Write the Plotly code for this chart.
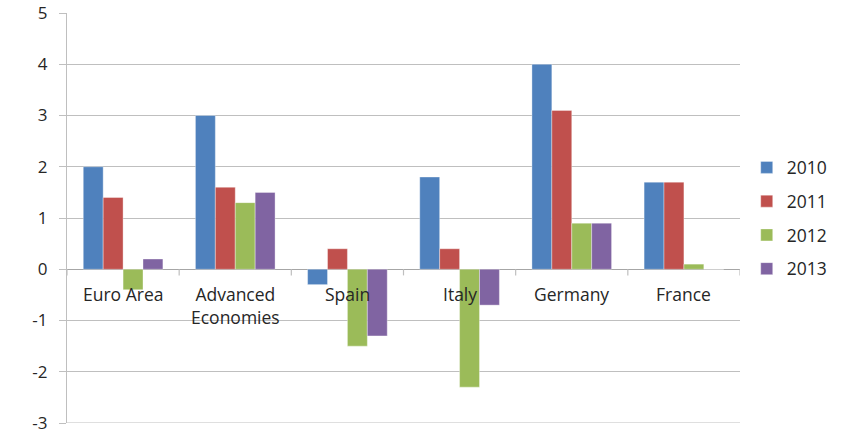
import plotly.graph_objects as go

categories = ["Euro Area", "Advanced<br>Economies", "Spain", "Italy", "Germany", "France"]
years = ["2010", "2011", "2012", "2013"]
v2010 = [2.0, 3.0, -0.3, 1.8, 4.0, 1.7]
v2011 = [1.4, 1.6, 0.4, 0.4, 3.1, 1.7]
v2012 = [-0.4, 1.3, -1.5, -2.3, 0.9, 0.1]
v2013 = [0.2, 1.5, -1.3, -0.7, 0.9, 0.0]
series = [v2010, v2011, v2012, v2013]
colors = ["#4F81BD", "#C0504D", "#9BBB59", "#8064A2"]
yticks = [-3, -2, -1, 0, 1, 2, 3, 4, 5]

FONT = "'Open Sans', sans-serif"
xs = list(range(len(categories)))

fig = go.Figure()
for name, vals, col in zip(years, series, colors):
    fig.add_trace(go.Bar(x=xs, y=vals, name=name, marker=dict(color=col, line=dict(width=0.6, color="rgba(255,255,255,0.6)")),
                         legendgroup=name))

# category labels below the zero line
for i, c in enumerate(categories):
    fig.add_annotation(x=i, y=0, text=c, showarrow=False, yanchor="top", yshift=-11,
                       font=dict(family=FONT, size=17.5, color="#262626"), align="center")

# category boundary tick marks on zero line
for i in range(len(categories) + 1):
    fig.add_shape(type="line", x0=i - 0.5, x1=i - 0.5, y0=-0.12, y1=0, xref="x", yref="y",
                  line=dict(color="#BFBFBF", width=1.2))

# bottom gridline (at the lower edge of the range)
fig.add_shape(type="line", x0=0, x1=1, y0=yticks[0], y1=yticks[0], xref="paper", yref="y",
              line=dict(color="#BFBFBF", width=1.2), layer="below")

fig.update_layout(
    width=846, height=435,
    margin=dict(l=67, r=106, t=13, b=12, autoexpand=False),
    paper_bgcolor="white", plot_bgcolor="white",
    barmode="group", bargap=0.29, bargroupgap=0,
    font=dict(family=FONT, size=17.5, color="#262626"),
    showlegend=True,
    legend=dict(x=1.01, xanchor="left", y=0.50, yanchor="middle",
                font=dict(family=FONT, size=17.5, color="#262626"),
                tracegroupgap=8, itemwidth=30, bgcolor="rgba(0,0,0,0)"),
    xaxis=dict(range=[-0.5, len(categories) - 0.5], showticklabels=False, showgrid=False,
               zeroline=False, showline=False, ticks="", automargin=False),
    yaxis=dict(range=[-3, 5], tickvals=yticks, ticktext=[str(t) for t in yticks],
               showgrid=True, gridcolor="#BFBFBF", gridwidth=1.2,
               zeroline=True, zerolinecolor="#A6A6A6", zerolinewidth=1.2,
               showline=True, linecolor="#BFBFBF", linewidth=1.2,
               ticks="outside", ticklen=7, tickcolor="#BFBFBF", tickwidth=1.2, automargin=False,
               ticklabeloverflow="allow",
               ticklabelstandoff=8, tickfont=dict(family=FONT, size=17, color="#262626")),
)

fig.write_html("out.html")
